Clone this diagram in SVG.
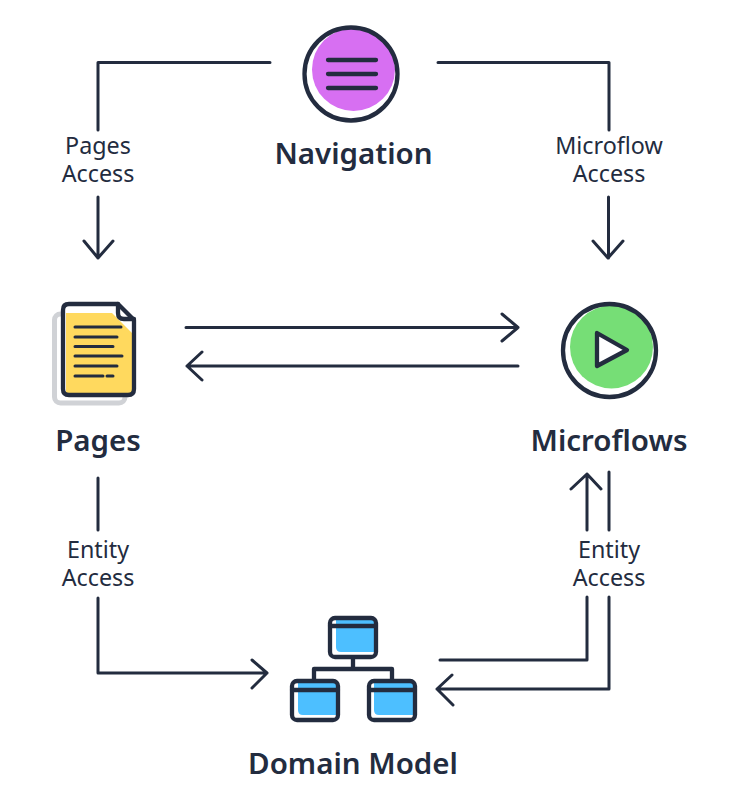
<svg xmlns="http://www.w3.org/2000/svg" width="736" height="797" viewBox="0 0 736 797">
<style>
text{font-family:"Noto Sans","Open Sans",sans-serif;fill:#232c3f;text-anchor:middle}
.t{font-size:29.500px;font-weight:600}
.l{font-size:23.300px}
.c{fill:none;stroke:#232c3f;stroke-width:3;stroke-linecap:round;stroke-linejoin:round}
.o{fill:none;stroke:#232c3f;stroke-width:4.300;stroke-linecap:round;stroke-linejoin:round}
</style>
<rect width="736" height="797" fill="#fff"/>
<g id="connectors" class="c">
<path d="M270 62.500H98V130M98 197V258M84 241L98 258L113 241"/>
<path d="M438 62.500H609V130M608.500 197V258M593 241L608 258L623 241"/>
<path d="M186 327.500H518M502 314L518 327.500L502 341"/>
<path d="M518 366H187M202 352L187 366L202 380"/>
<path d="M98 478V530M98 598V673H267M252 660L267 673L252 688"/>
<path d="M587 530V474M571 489L587 474L601 489"/>
<path d="M587 597V660H440"/>
<path d="M609 472V530M609 597V689H437M452 675L437 689L453 705"/>
</g>
<g id="navigation">
<circle cx="353.500" cy="69.500" r="41.500" fill="#d76ff2"/>
<circle cx="351" cy="74" r="46.500" class="o"/>
<path class="o" d="M328 60H376M328 74H376M328 88H376"/>
<text class="t" x="353.500" y="163.700">Navigation</text>
</g>
<g id="pages">
<rect x="54.500" y="314" width="70.500" height="89" rx="6" fill="none" stroke="#d0d2d6" stroke-width="5"/>
<path d="M64 306H119L134 320V393H64Z" fill="#fff"/>
<path d="M66 313H112L132 333V393H66Z" fill="#ffd95e"/>
<path class="o" d="M69 304H118L134 320V389Q134 395 128 395H69Q63 395 63 389V310Q63 304 69 304Z"/>
<path class="o" stroke-width="3" d="M118 304V313Q118 319 124 319H134"/>
<path class="c" d="M75 327H121M75 337H117M75 346.500H113M75 356H122M75 366H117M75 376H103M107 376H113"/>
<text class="t" x="98" y="450.500">Pages</text>
</g>
<g id="microflows">
<circle cx="611.500" cy="347" r="41.500" fill="#76de76"/>
<circle cx="609.500" cy="350.500" r="46.500" class="o"/>
<path class="o" style="fill:#fff" d="M597 333L627 350L597 366Z"/>
<text class="t" x="609" y="450.500">Microflows</text>
</g>
<g id="domain-model">
<path d="M336 619H375V652H341Q336 652 336 647Z" fill="#4dbfff"/>
<path d="M298 682H337V715H303Q298 715 298 710Z" fill="#4dbfff"/>
<path d="M374 682H414V715H379Q374 715 374 710Z" fill="#4dbfff"/>
<rect class="o" x="330" y="618" width="46" height="39" rx="5"/>
<rect class="o" x="292" y="681" width="46" height="39" rx="5"/>
<rect class="o" x="369" y="681" width="46" height="39" rx="5"/>
<path class="o" stroke-width="3.500" d="M330 626H376M292 690H338M369 690H415M353 659V669M314 679V669H392V679"/>
<text class="t" x="353" y="774">Domain Model</text>
</g>
<g id="labels">
<text class="l" x="98" y="153.500">Pages</text>
<text class="l" x="98" y="182">Access</text>
<text class="l" x="609" y="153.500">Microflow</text>
<text class="l" x="609" y="182">Access</text>
<text class="l" x="98" y="558">Entity</text>
<text class="l" x="98" y="586">Access</text>
<text class="l" x="609" y="558">Entity</text>
<text class="l" x="609" y="586">Access</text>
</g>
</svg>
